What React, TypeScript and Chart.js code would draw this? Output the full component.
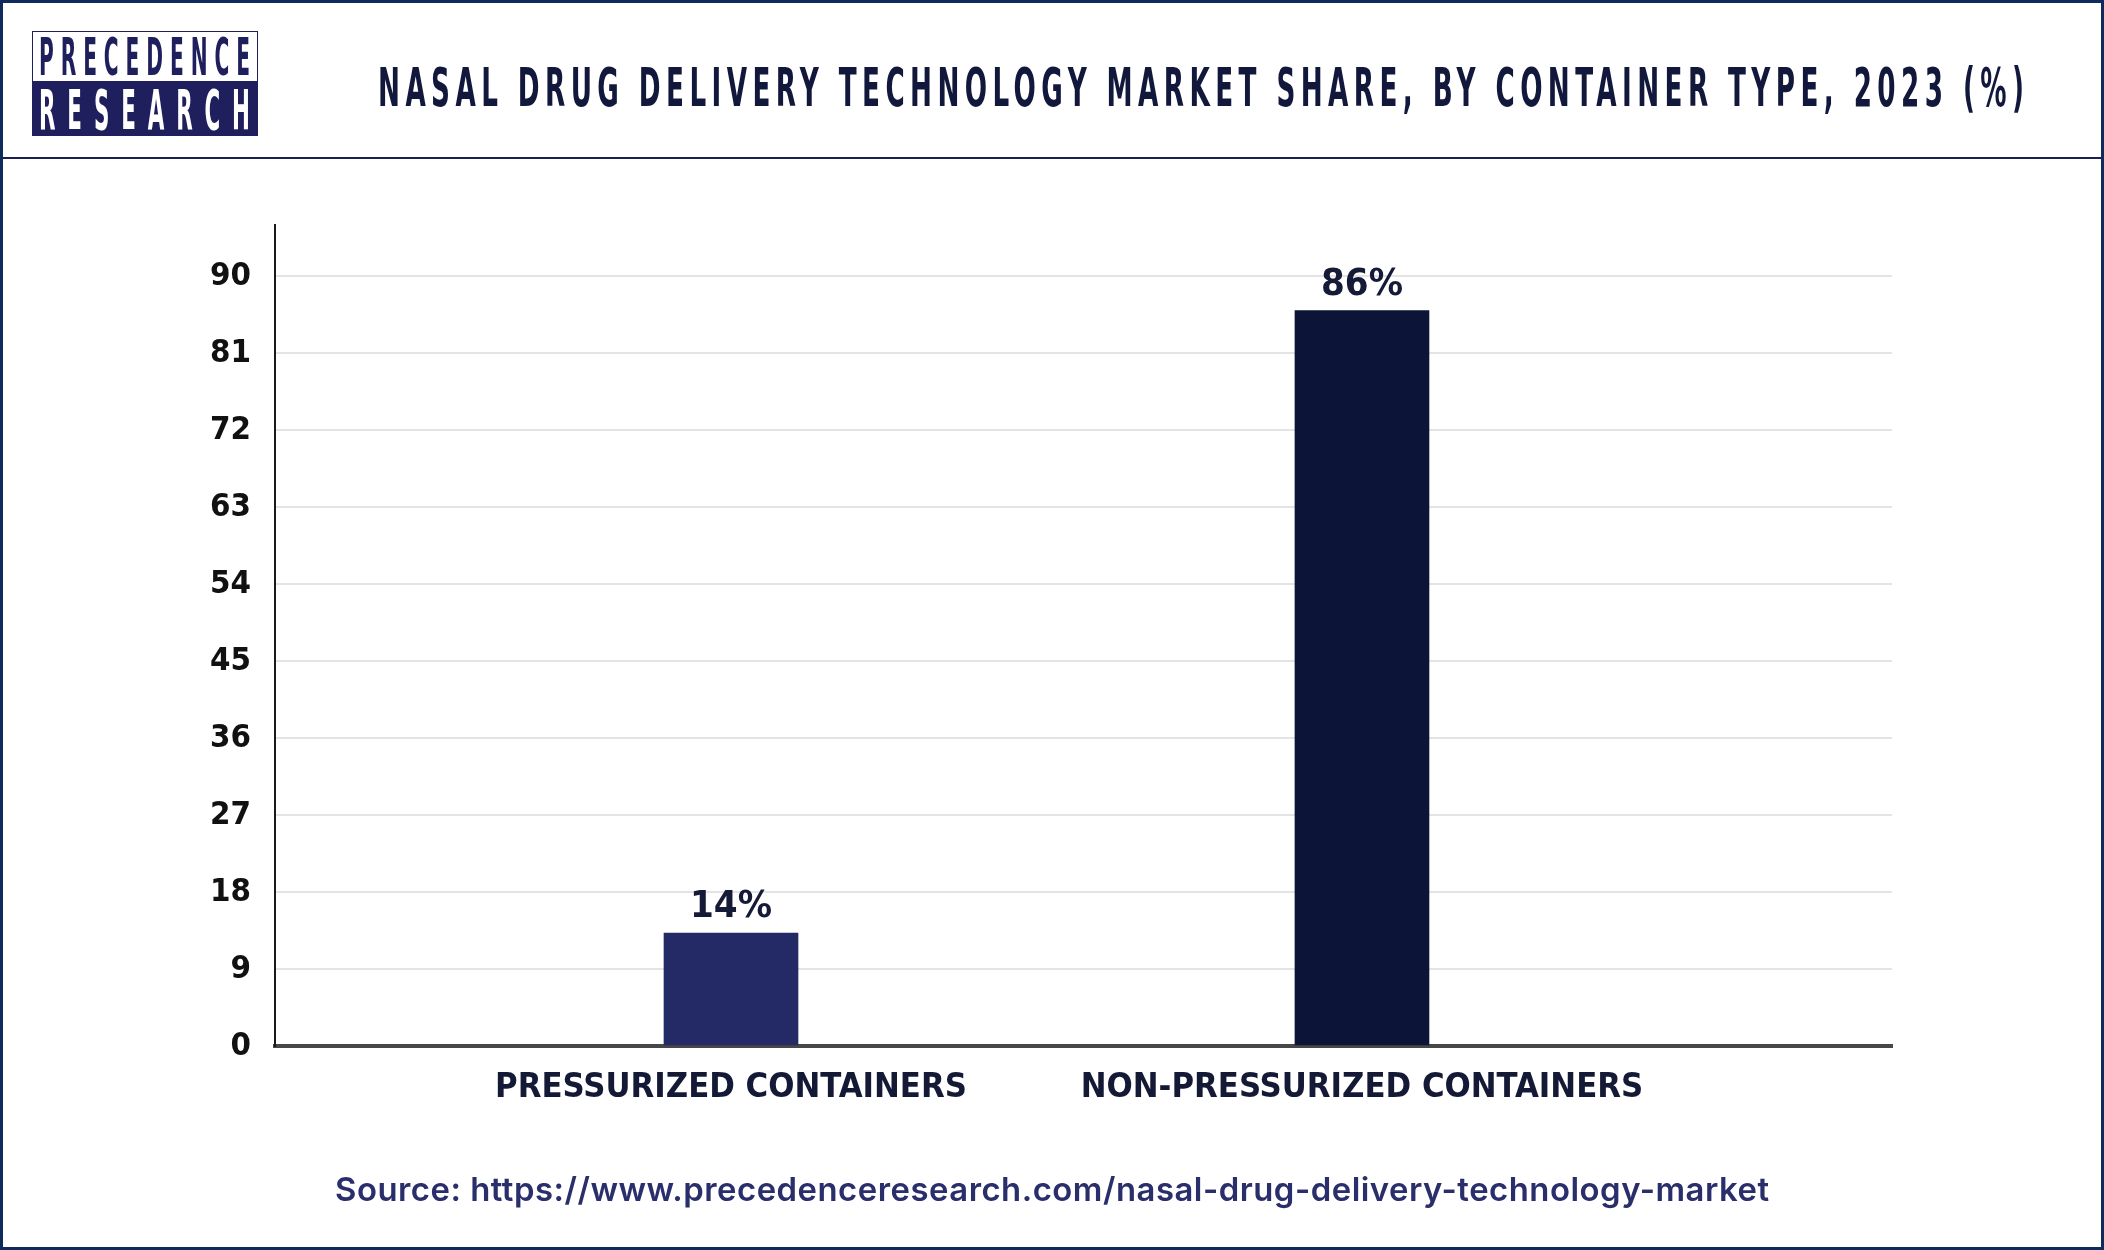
import React, { useEffect, useLayoutEffect, useRef } from "react";
import { Chart, registerables } from "chart.js";

Chart.register(...registerables);

// ---- data ----
const categories = ["PRESSURIZED CONTAINERS", "NON-PRESSURIZED CONTAINERS"];
const shareValues = [13.2, 86];
const valueLabels = ["14%", "86%"];
const yTicks = [0, 9, 18, 27, 36, 45, 54, 63, 72, 81, 90];
const barColors = ["#232a66", "#0c1538"];

const TITLE = "NASAL DRUG DELIVERY TECHNOLOGY MARKET SHARE, BY CONTAINER TYPE, 2023 (%)";
const SOURCE = "Source: https://www.precedenceresearch.com/nasal-drug-delivery-technology-market";

const CANDIDATES = [
  "Noto Sans ExtraCondensed",
  "Noto Sans Condensed",
  "Liberation Sans Narrow",
  "DejaVu Sans Condensed",
];

function hasFont(name: string): boolean {
  const c = document.createElement("canvas").getContext("2d");
  if (!c) return false;
  const s = "abcdefghijklmnopqrstuvwxyzABCDEFGHIJKLMNOPQRSTUVWXYZ0123456789";
  const res: boolean[] = [];
  for (const base of ["monospace", "serif"]) {
    c.font = `bold 72px ${base}`;
    const w1 = c.measureText(s).width;
    c.font = `bold 72px "${name}", ${base}`;
    const w2 = c.measureText(s).width;
    res.push(Math.abs(w1 - w2) > 0.5);
  }
  return res[0] && res[1];
}

let narrowFamilyCache: string | null = null;
function narrowFamily(): string {
  if (narrowFamilyCache) return narrowFamilyCache;
  const found = CANDIDATES.find((n) => hasFont(n)) || "DejaVu Sans Condensed";
  narrowFamilyCache = `"${found}", "DejaVu Sans Condensed", sans-serif`;
  return narrowFamilyCache;
}

function fitSize(text: string, family: string, targetWidth: number, maxSize: number): number {
  const c = document.createElement("canvas").getContext("2d");
  if (!c) return maxSize;
  c.font = `bold 100px ${family}`;
  const w = c.measureText(text).width / 100;
  return Math.min(maxSize, targetWidth / w);
}

type FitProps = {
  text: string;
  left: number;
  top: number;
  width: number;
  fontSize: number;
  color: string;
  family: string;
  weight: number | string;
  letterSpacing: number;
};

function FitText(p: FitProps) {
  const ref = useRef<HTMLSpanElement>(null);
  useLayoutEffect(() => {
    const el = ref.current;
    if (!el) return;
    const fit = () => {
      el.style.transform = "none";
      const w = el.getBoundingClientRect().width - p.letterSpacing;
      if (w > 0) el.style.transform = `scaleX(${p.width / w})`;
    };
    fit();
    if ((document as any).fonts && (document as any).fonts.ready) {
      (document as any).fonts.ready.then(fit);
    }
  }, [p.text, p.width, p.fontSize, p.letterSpacing, p.family]);
  return (
    <div
      style={{
        position: "absolute",
        left: p.left,
        top: p.top,
        height: p.fontSize,
        lineHeight: 1,
        whiteSpace: "nowrap",
      }}
    >
      <span
        ref={ref}
        style={{
          display: "inline-block",
          transformOrigin: "left top",
          fontSize: p.fontSize,
          fontFamily: p.family,
          fontWeight: p.weight as any,
          color: p.color,
          letterSpacing: p.letterSpacing,
          lineHeight: 1,
        }}
      >
        {p.text}
      </span>
    </div>
  );
}

function makeValueLabelPlugin(family: string, size: number) {
  return {
    id: "valueLabels",
    afterDatasetsDraw(chart: any) {
      const meta = chart.getDatasetMeta(0);
      const ctx = chart.ctx;
      ctx.save();
      ctx.font = `bold ${size}px ${family}`;
      ctx.fillStyle = "#151a36";
      ctx.textAlign = "center";
      ctx.textBaseline = "alphabetic";
      meta.data.forEach((bar: any, i: number) => {
        ctx.fillText(valueLabels[i], bar.x, bar.y - 16);
      });
      ctx.restore();
    },
  };
}

const STATIC_NARROW = '"Noto Sans ExtraCondensed", "Liberation Sans Narrow", "DejaVu Sans Condensed", sans-serif';

export default function App() {
  const canvasRef = useRef<HTMLCanvasElement>(null);

  useEffect(() => {
    document.body.style.margin = "0";
    const canvas = canvasRef.current;
    if (!canvas) return;
    const fam = narrowFamily();
    const xSize = fitSize(categories[0], fam, 472, 44);
    const ySize = fitSize("90", fam, 41, 37);
    const vSize = fitSize("86%", fam, 82, 43);

    const chart = new Chart(canvas, {
      type: "bar",
      data: {
        datasets: [
          {
            data: categories.map((_, i) => ({ x: i + 1, y: shareValues[i] })) as any,
            backgroundColor: barColors,
            borderWidth: 0,
            barThickness: 134,
          },
        ],
      },
      options: {
        animation: false,
        responsive: false,
        maintainAspectRatio: false,
        devicePixelRatio: 1,
        layout: { padding: { left: 175, right: 212, top: 225, bottom: 104 } },
        plugins: {
          legend: { display: false },
          tooltip: { enabled: false },
          title: { display: false },
        },
        scales: {
          x: {
            type: "linear",
            min: 0.2773,
            max: 2.84,
            offset: false,
            z: 1,
            grid: { display: false, drawTicks: false },
            border: { display: true, color: "#474747", width: 4 },
            afterBuildTicks: (s: any) => {
              s.ticks = categories.map((_, i) => ({ value: i + 1 }));
            },
            afterFit: (s: any) => {
              s.height = 100;
            },
            ticks: {
              autoSkip: false,
              maxRotation: 0,
              minRotation: 0,
              padding: 42 - xSize * 0.6,
              color: "#141a36",
              font: { family: fam, size: xSize, weight: "bold" },
              callback: (v: any) => categories[Math.round(Number(v)) - 1] ?? "",
            },
          } as any,
          y: {
            min: 0,
            max: 96,
            afterBuildTicks: (s: any) => {
              s.ticks = yTicks.map((v) => ({ value: v }));
            },
            afterFit: (s: any) => {
              s.width = 100;
            },
            grid: { color: "#e4e4e4", lineWidth: 2, drawTicks: false },
            border: { display: true, color: "#1a1a1a", width: 2 },
            ticks: {
              padding: 24,
              color: "#111111",
              font: { family: fam, size: ySize, weight: "bold" },
            },
          } as any,
        },
      },
      plugins: [makeValueLabelPlugin(fam, vSize)],
    });
    return () => chart.destroy();
  }, []);

  return (
    <div
      style={{
        position: "fixed",
        left: 0,
        top: 0,
        width: 2104,
        height: 1250,
        background: "#ffffff",
        overflow: "hidden",
      }}
    >
      <canvas
        ref={canvasRef}
        width={2104}
        height={1250}
        style={{ position: "absolute", left: 0, top: 0, width: 2104, height: 1250 }}
      />
      {/* header separator */}
      <div
        style={{
          position: "absolute",
          left: 0,
          top: 157,
          width: 2104,
          height: 2,
          background: "#1b2050",
        }}
      />
      {/* logo */}
      <div
        style={{
          position: "absolute",
          left: 32,
          top: 31,
          width: 226,
          height: 51,
          boxSizing: "border-box",
          border: "1.5px solid #1e1f5c",
          background: "#ffffff",
        }}
      />
      <div
        style={{
          position: "absolute",
          left: 32,
          top: 82,
          width: 226,
          height: 54,
          background: "#1e1f5c",
        }}
      />
      <FitText
        text="PRECEDENCE"
        left={39}
        top={31}
        width={211}
        fontSize={52}
        color="#1e1f5c"
        family={STATIC_NARROW}
        weight={700}
        letterSpacing={16}
      />
      <FitText
        text="RESEARCH"
        left={39}
        top={82}
        width={211}
        fontSize={56}
        color="#ffffff"
        family={STATIC_NARROW}
        weight={700}
        letterSpacing={28}
      />
      {/* title */}
      <FitText
        text={TITLE}
        left={378}
        top={61}
        width={1646}
        fontSize={54}
        color="#12183b"
        family={STATIC_NARROW}
        weight={700}
        letterSpacing={10}
      />
      {/* source */}
      <FitText
        text={SOURCE}
        left={335}
        top={1173}
        width={1434}
        fontSize={33}
        color="#2a2e6a"
        family='Inter, "Open Sans", sans-serif'
        weight={600}
        letterSpacing={0.5}
      />
      {/* outer border */}
      <div
        style={{
          position: "absolute",
          left: 0,
          top: 0,
          width: 2104,
          height: 1250,
          boxSizing: "border-box",
          border: "3px solid #0f2b5b",
          pointerEvents: "none",
        }}
      />
    </div>
  );
}
